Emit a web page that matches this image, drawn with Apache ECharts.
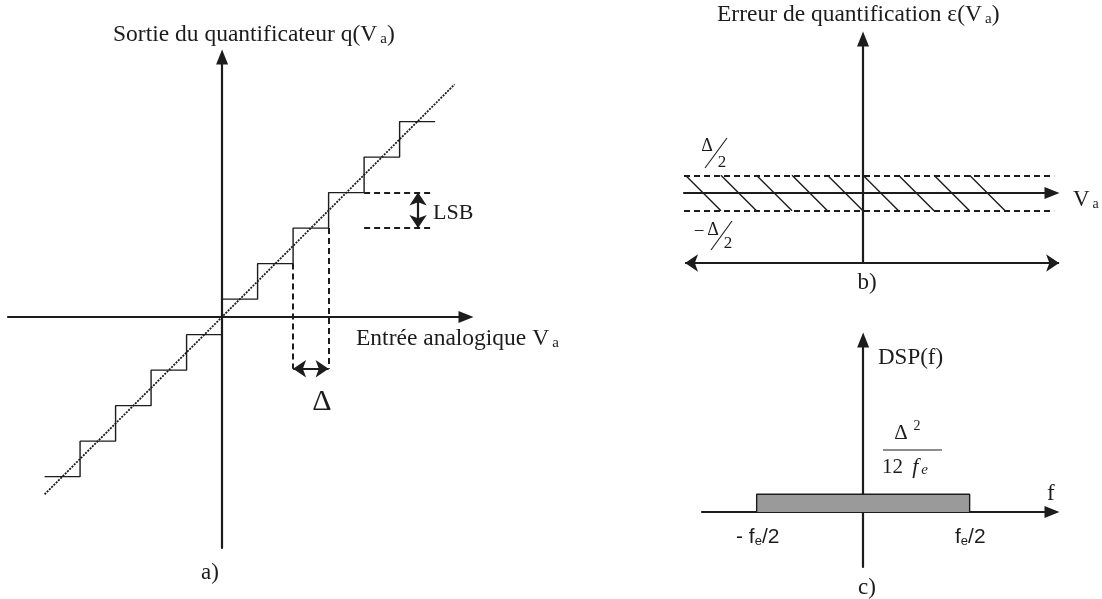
<!DOCTYPE html>
<html>
<head>
<meta charset="utf-8">
<script src="https://cdn.jsdelivr.net/npm/echarts@6/dist/echarts.min.js"></script>
<style>
  html, body { margin: 0; background: #fff; }
  #chart { width: 1102px; height: 599px; }
</style>
</head>
<body>
<div id="chart"></div>
<script>
// a) staircase of the quantizer, in units of delta
var posEdges = [0, 1, 2, 3, 4, 5, 6];
var posLevels = [0.5, 1.5, 2.5, 3.5, 4.5, 5.5];
var negEdges = [-5, -4, -3, -2, -1, 0];
var negLevels = [-4.5, -3.5, -2.5, -1.5, -0.5];
var idealLine = [[-5, -5], [6.55, 6.55]];
var deltaMarks = [2, 3];
var deltaArrowY = -1.46;
var lsbLevels = [2.5, 3.5];
var lsbSpan = [4, 5.94];
var lsbArrowX = 5.52;
// b) quantization error band
var errBand = [-0.5, 0.5];
var errSpan = [-5.04, 5.38];
var hatchStarts = [-5, -4, -3, -2, -1, 0, 1, 2, 3];
var bottomSpan = [-5.01, 5.52];
// c) noise power density
var dspEdges = [-3, 3];
var dspLevel = 0.5;

var ink = "#1c1c1c";
var serif = "Liberation Serif";
var sans = "Liberation Sans";

function stairs(edges, levels) {
  var pts = [];
  levels.forEach(function (l, i) {
    pts.push([edges[i], l]);
    pts.push([edges[i + 1], l]);
  });
  return pts;
}

function axis(grid, min, max) {
  return {
    type: "value",
    gridIndex: grid,
    min: min,
    max: max,
    axisLine: {
      show: true,
      onZero: true,
      symbol: ["none", "triangle"],
      symbolSize: [12, 15],
      lineStyle: { color: ink, width: 2.2 },
    },
    axisTick: { show: false },
    axisLabel: { show: false },
    splitLine: { show: false },
  };
}

function plain(name, grid, data, lineStyle) {
  return {
    name: name,
    type: "line",
    xAxisIndex: grid,
    yAxisIndex: grid,
    data: data,
    symbol: "none",
    silent: true,
    clip: false,
    lineStyle: lineStyle,
  };
}

function segs(name, grid, list, lineStyle, symbol) {
  return {
    name: name,
    type: "lines",
    coordinateSystem: "cartesian2d",
    xAxisIndex: grid,
    yAxisIndex: grid,
    clip: false,
    silent: true,
    symbol: symbol || "none",
    symbolSize: 13,
    lineStyle: Object.assign({ opacity: 1, curveness: 0 }, lineStyle),
    data: list.map(function (c) { return { coords: c }; }),
  };
}

function sub(x, y, main, low, size, extra) {
  var rich = {
    t: { fontFamily: serif, fontSize: size, fill: ink },
    s: { fontFamily: serif, fontSize: Math.round(size * 0.62), fill: ink, verticalAlign: "bottom", padding: [0, 0, 0, 3] },
  };
  return {
    type: "text", x: x, y: y,
    style: { text: "{t|" + main + "}{s|" + low + "}" + (extra ? "{t|" + extra + "}" : ""), verticalAlign: "middle", rich: rich },
  };
}

function word(x, y, text, size, family, align) {
  return {
    type: "text", x: x, y: y,
    style: { text: text, font: size + "px " + (family || serif), fill: ink, align: align || "left", verticalAlign: "middle" },
  };
}

function slash(x1, y1, x2, y2) {
  return { type: "line", shape: { x1: x1, y1: y1, x2: x2, y2: y2 }, style: { stroke: ink, lineWidth: 1.1 } };
}

var dashed = { color: ink, width: 2, type: [6, 4] };
var thin = { color: ink, width: 1.4 };
var hatch = [];
hatchStarts.forEach(function (s) {
  hatch.push([[s, errBand[1]], [s + 1, errBand[0]]]);
});

var chart = echarts.init(document.getElementById("chart"));
var option = {
  animation: false,
  backgroundColor: "#fff",
  grid: [
    { left: 8, top: 57, width: 458, height: 491 },
    { left: 684, top: 39, width: 368, height: 224 },
    { left: 702, top: 340, width: 350, height: 227 },
  ],
  xAxis: [
    axis(0, -6.03, 6.87),
    axis(1, -5.04, 5.32),
    axis(2, -4.54, 5.32),
  ],
  yAxis: [
    axis(0, -6.51, 7.32),
    axis(1, -1.97, 4.34),
    axis(2, -1.55, 4.85),
  ],
  series: [
    plain("pos", 0, stairs(posEdges, posLevels), thin),
    plain("neg", 0, stairs(negEdges, negLevels), thin),
    plain("ideal", 0, idealLine, { color: ink, width: 1.8, type: [2, 1.2] }),
    segs("deltaDash", 0, deltaMarks.map(function (x, i) {
      return [[x, lsbLevels[0] - 1 + i], [x, deltaArrowY]];
    }), dashed),
    segs("deltaArrow", 0, [[[deltaMarks[0], deltaArrowY], [deltaMarks[1], deltaArrowY]]],
      { color: ink, width: 2.2 }, ["arrow", "arrow"]),
    segs("lsbDash", 0, lsbLevels.map(function (l) {
      return [[lsbSpan[0], l], [lsbSpan[1], l]];
    }), dashed),
    segs("lsbArrow", 0, [[[lsbArrowX, lsbLevels[0]], [lsbArrowX, lsbLevels[1]]]],
      { color: ink, width: 2.2 }, ["arrow", "arrow"]),
    segs("band", 1, errBand.map(function (b) {
      return [[errSpan[0], b], [errSpan[1], b]];
    }), dashed),
    segs("hatch", 1, hatch, thin),
    segs("bottom", 1, [[[bottomSpan[0], -1.97], [bottomSpan[1], -1.97]]],
      { color: ink, width: 2.2 }, ["arrow", "arrow"]),
    {
      name: "dsp",
      type: "line",
      xAxisIndex: 2,
      yAxisIndex: 2,
      symbol: "none",
      silent: true,
      data: [[dspEdges[0], 0], [dspEdges[0], dspLevel], [dspEdges[1], dspLevel], [dspEdges[1], 0]],
      lineStyle: { color: ink, width: 1.4 },
      areaStyle: { color: "#9a9a9a", opacity: 1 },
      z: 1,
    },
  ],
  graphic: [
    sub(113, 35, "Sortie du quantificateur q(V", "a", 23.5, ")"),
    sub(356, 339, "Entrée analogique V", "a", 23.5),
    word(322, 402, "Δ", 30, serif, "center"),
    word(433, 213, "LSB", 22),
    word(210, 573, "a)", 23, serif, "center"),
    sub(717, 15, "Erreur de quantification ε(V", "a", 23.5, ")"),
    sub(1073, 200, "V", "a", 23),
    word(707, 146, "Δ", 18, serif, "center"),
    slash(705, 168, 727, 138),
    word(722, 163, "2", 17, serif, "center"),
    word(699, 232, "−", 19, serif, "center"),
    word(713, 230, "Δ", 18, serif, "center"),
    slash(711, 250, 732, 221),
    word(728, 244, "2", 17, serif, "center"),
    word(867, 283, "b)", 23, serif, "center"),
    word(878, 358, "DSP(f)", 23),
    word(901, 433, "Δ", 21, serif, "center"),
    word(917, 426, "2", 14, serif, "center"),
    { type: "line", shape: { x1: 883, y1: 450, x2: 942, y2: 450 }, style: { stroke: ink, lineWidth: 1.2 } },
    {
      type: "text", x: 882, y: 467,
      style: {
        text: "{t|12 }{i|f}{s|e}",
        verticalAlign: "middle",
        rich: {
          t: { fontFamily: serif, fontSize: 21, fill: ink },
          i: { fontFamily: serif, fontSize: 22, fontStyle: "italic", fill: ink, padding: [0, 0, 0, 4] },
          s: { fontFamily: serif, fontSize: 15, fontStyle: "italic", fill: ink, verticalAlign: "bottom", padding: [0, 0, 0, 3] },
        },
      },
    },
    word(1047, 494, "f", 23),
    {
      type: "text", x: 736, y: 537,
      style: {
        text: "{t|- f}{s|e}{t|/2}",
        verticalAlign: "middle",
        rich: {
          t: { fontFamily: sans, fontSize: 21, fill: ink },
          s: { fontFamily: sans, fontSize: 13, fill: ink, verticalAlign: "bottom" },
        },
      },
    },
    {
      type: "text", x: 955, y: 537,
      style: {
        text: "{t|f}{s|e}{t|/2}",
        verticalAlign: "middle",
        rich: {
          t: { fontFamily: sans, fontSize: 21, fill: ink },
          s: { fontFamily: sans, fontSize: 13, fill: ink, verticalAlign: "bottom" },
        },
      },
    },
    word(867, 588, "c)", 23, serif, "center"),
  ],
};
chart.setOption(option);
</script>
</body>
</html>
